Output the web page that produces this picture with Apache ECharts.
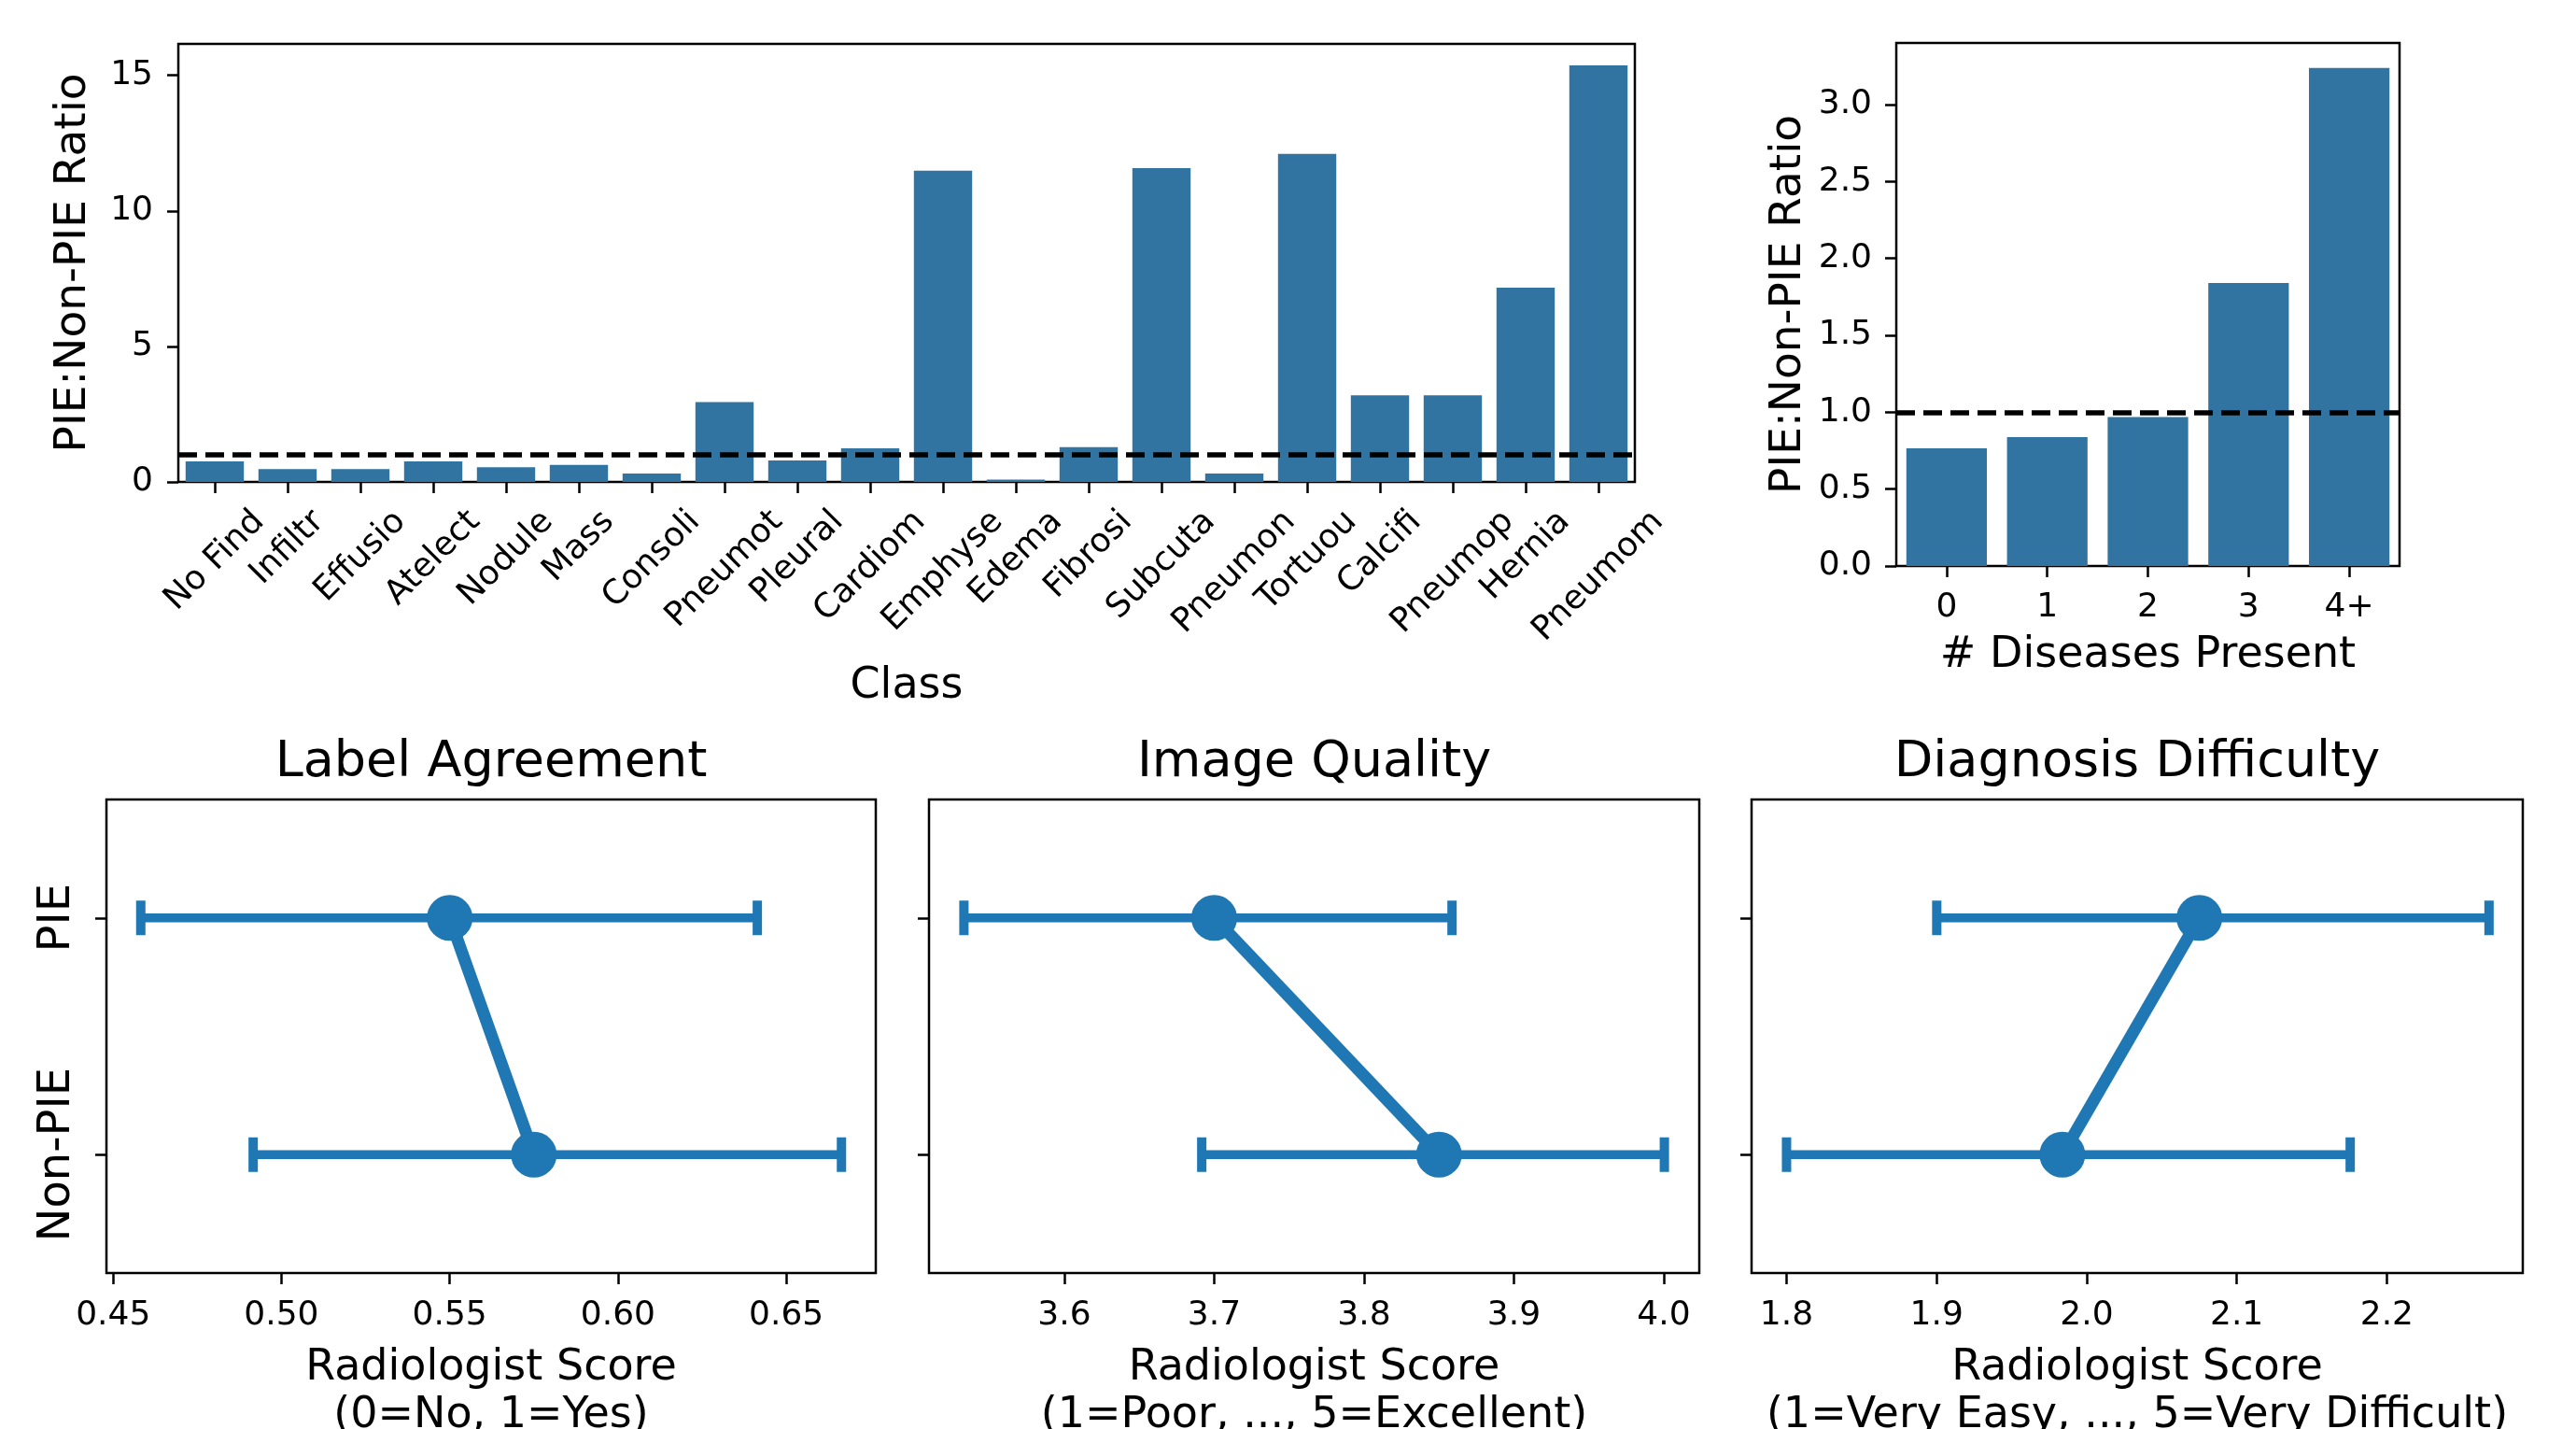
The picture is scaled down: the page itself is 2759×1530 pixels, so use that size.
<!DOCTYPE html>
<html><head><meta charset="utf-8">
<script src="https://cdn.jsdelivr.net/npm/echarts@6/dist/echarts.min.js"></script>
<style>html,body{margin:0;padding:0;background:#fff}#c{width:2759px;height:1530px}</style>
</head><body><div id="c"></div>
<script>
// ---------- data ----------
const classNames = ['No Find','Infiltr','Effusio','Atelect','Nodule','Mass','Consoli','Pneumot','Pleural','Cardiom','Emphyse','Edema','Fibrosi','Subcuta','Pneumon','Tortuou','Calcifi','Pneumop','Hernia','Pneumom'];
const classRatio = [0.76,0.475,0.475,0.76,0.54,0.63,0.31,2.95,0.79,1.24,11.48,0.09,1.28,11.58,0.31,12.1,3.2,3.2,7.17,15.37];
const classTicks = [0,5,10,15];

const diseaseCounts = ['0','1','2','3','4+'];
const diseaseRatio = [0.765,0.838,0.968,1.84,3.237];
const diseaseTicks = [0,0.5,1,1.5,2,2.5,3];

const groups = ['PIE','Non-PIE'];
const labelMean = [0.550,0.575];
const labelLow  = [0.4582,0.4916];
const labelHigh = [0.6414,0.6664];
const labelTicks = [0.45,0.50,0.55,0.60,0.65];

const qualityMean = [3.700,3.850];
const qualityLow  = [3.533,3.6917];
const qualityHigh = [3.8587,4.0004];
const qualityTicks = [3.6,3.7,3.8,3.9,4.0];

const diffMean = [2.0751,1.9838];
const diffLow  = [1.9001,1.800];
const diffHigh = [2.2681,2.1756];
const diffTicks = [1.8,1.9,2.0,2.1,2.2];

// ---------- styles ----------
const FONT = 'DejaVu Sans';
const TICK_FS = 36, NAME_FS = 46, TITLE_FS = 54;
const BAR_C = '#3274a1', PT_C = '#1f77b4';
const LW = 2.5;

// rotated label centring (matplotlib style: rotated bbox centred on tick)
const mctx = document.createElement('canvas').getContext('2d');
mctx.font = TICK_FS + 'px "' + FONT + '"';
const rich = {};
classNames.forEach((s, i) => {
  const w = mctx.measureText(s).width;
  rich['c' + i] = {fontSize: TICK_FS, fontFamily: FONT, color: '#000', padding: [w / 2, w / 2, 0, 0]};
});

const tickStyle = {show: true, length: 12, lineStyle: {color: '#000', width: LW}};
const gridBase = {show: true, borderColor: '#000', borderWidth: LW, backgroundColor: 'transparent', containLabel: false, outerBoundsMode: 'none'};
const nameStyle = {fontSize: NAME_FS, fontFamily: FONT, color: '#000', lineHeight: 51};
const labStyle = {fontSize: TICK_FS, fontFamily: FONT, color: '#000'};

const grids = [
  Object.assign({left: 191, top: 47, width: 1560, height: 469}, gridBase),
  Object.assign({left: 2031, top: 46, width: 539, height: 560}, gridBase),
  Object.assign({left: 114, top: 856, width: 824, height: 507}, gridBase),
  Object.assign({left: 995, top: 856, width: 825, height: 507}, gridBase),
  Object.assign({left: 1876, top: 856, width: 826, height: 507}, gridBase)
];

function valueXAxis(gi, min, max, ticks, dec) {
  return {
    type: 'value', gridIndex: gi, min: min, max: max,
    axisLine: {show: false}, splitLine: {show: false},
    axisTick: Object.assign({customValues: ticks}, tickStyle),
    axisLabel: Object.assign({customValues: ticks, margin: 28, formatter: v => v.toFixed(dec)}, labStyle),
    name: 'Radiologist Score', nameLocation: 'middle', nameGap: 77, nameTextStyle: nameStyle, nameMoveOverlap: false
  };
}

const xAxes = [
  {
    type: 'category', gridIndex: 0, data: classNames,
    axisLine: {show: false},
    axisTick: Object.assign({alignWithLabel: true, interval: 0}, tickStyle),
    axisLabel: {interval: 0, rotate: 45, align: 'center', verticalAlign: 'middle', margin: 37,
      formatter: (v, i) => '{c' + i + '|' + v + '}', rich: rich, fontSize: TICK_FS, fontFamily: FONT, color: '#000'},
    name: 'Class', nameLocation: 'middle', nameGap: 194, nameTextStyle: nameStyle, nameMoveOverlap: false
  },
  {
    type: 'category', gridIndex: 1, data: diseaseCounts,
    axisLine: {show: false},
    axisTick: Object.assign({alignWithLabel: true, interval: 0}, tickStyle),
    axisLabel: Object.assign({interval: 0, margin: 27}, labStyle),
    name: '# Diseases Present', nameLocation: 'middle', nameGap: 71, nameTextStyle: nameStyle, nameMoveOverlap: false
  },
  valueXAxis(2, 0.448, 0.6766, labelTicks, 2),
  valueXAxis(3, 3.5097, 4.0237, qualityTicks, 1),
  valueXAxis(4, 1.7767, 2.2906, diffTicks, 1)
];
xAxes[2].name = 'Radiologist Score\n(0=No, 1=Yes)';
xAxes[3].name = 'Radiologist Score\n(1=Poor, ..., 5=Excellent)';
xAxes[4].name = 'Radiologist Score\n(1=Very Easy, ..., 5=Very Difficult)';

function catYAxis(gi, showLabel) {
  return {
    type: 'category', gridIndex: gi, data: groups, inverse: true,
    axisLine: {show: false},
    axisTick: Object.assign({alignWithLabel: true, interval: 0}, tickStyle),
    axisLabel: Object.assign({show: showLabel, rotate: 90, margin: 28, interval: 0}, labStyle, {fontSize: 48})
  };
}

const yAxes = [
  {
    type: 'value', gridIndex: 0, min: 0, max: 16.16,
    axisLine: {show: false}, splitLine: {show: false},
    axisTick: Object.assign({customValues: classTicks}, tickStyle),
    axisLabel: Object.assign({customValues: classTicks, margin: 27, formatter: v => String(v)}, labStyle),
    name: 'PIE:Non-PIE Ratio', nameLocation: 'middle', nameRotate: 90, nameGap: 87,
    nameTextStyle: Object.assign({}, nameStyle, {fontSize: 47}), nameMoveOverlap: false
  },
  {
    type: 'value', gridIndex: 1, min: 0, max: 3.4,
    axisLine: {show: false}, splitLine: {show: false},
    axisTick: Object.assign({customValues: diseaseTicks}, tickStyle),
    axisLabel: Object.assign({customValues: diseaseTicks, margin: 26, formatter: v => v.toFixed(1)}, labStyle),
    name: 'PIE:Non-PIE Ratio', nameLocation: 'middle', nameRotate: 90, nameGap: 90,
    nameTextStyle: Object.assign({}, nameStyle, {fontSize: 47}), nameMoveOverlap: false
  },
  catYAxis(2, true), catYAxis(3, false), catYAxis(4, false)
];

const refLine = {
  symbol: 'none', silent: true, label: {show: false},
  lineStyle: {type: [20, 9], color: '#000', width: 5.5},
  data: [{yAxis: 1}]
};

function errSeries(ai, lo, hi) {
  return {
    type: 'custom', xAxisIndex: ai, yAxisIndex: ai, z: 2,
    data: lo.map((l, i) => [l, hi[i], i]),
    encode: {x: [0, 1], y: 2},
    renderItem: function (params, api) {
      const idx = api.value(2);
      const a = api.coord([api.value(0), idx]);
      const b = api.coord([api.value(1), idx]);
      const cap = 37, st = {stroke: PT_C, lineWidth: 9.5};
      const capSt = {stroke: PT_C, lineWidth: 10};
      return {type: 'group', children: [
        {type: 'line', shape: {x1: a[0], y1: a[1], x2: b[0], y2: b[1]}, style: st},
        {type: 'line', shape: {x1: a[0], y1: a[1] - cap / 2, x2: a[0], y2: a[1] + cap / 2}, style: capSt},
        {type: 'line', shape: {x1: b[0], y1: b[1] - cap / 2, x2: b[0], y2: b[1] + cap / 2}, style: capSt}
      ]};
    }
  };
}
function ptSeries(ai, mean) {
  return {
    type: 'line', xAxisIndex: ai, yAxisIndex: ai, z: 3,
    data: mean.map((m, i) => [m, i]),
    symbol: 'circle', symbolSize: 49, showSymbol: true,
    lineStyle: {color: PT_C, width: 13}, itemStyle: {color: PT_C, borderWidth: 0},
    animation: false, silent: true
  };
}

const titleStyle = {fontSize: TITLE_FS, fontFamily: FONT, color: '#000', fontWeight: 'normal'};
const option = {
  animation: false,
  backgroundColor: '#fff',
  title: [
    {text: 'Label Agreement', left: 526, top: 790, textAlign: 'center', padding: 0, textStyle: titleStyle},
    {text: 'Image Quality', left: 1407.5, top: 790, textAlign: 'center', padding: 0, textStyle: titleStyle},
    {text: 'Diagnosis Difficulty', left: 2289, top: 790, textAlign: 'center', padding: 0, textStyle: titleStyle}
  ],
  grid: grids,
  xAxis: xAxes,
  yAxis: yAxes,
  series: [
    {type: 'bar', xAxisIndex: 0, yAxisIndex: 0, data: classRatio, barCategoryGap: '20%',
      itemStyle: {color: BAR_C}, markLine: refLine, silent: true},
    {type: 'bar', xAxisIndex: 1, yAxisIndex: 1, data: diseaseRatio, barCategoryGap: '20%',
      itemStyle: {color: BAR_C}, markLine: refLine, silent: true},
    errSeries(2, labelLow, labelHigh), ptSeries(2, labelMean),
    errSeries(3, qualityLow, qualityHigh), ptSeries(3, qualityMean),
    errSeries(4, diffLow, diffHigh), ptSeries(4, diffMean)
  ]
};
const chart = echarts.init(document.getElementById('c'), null, {renderer: 'canvas'});
chart.setOption(option);
</script>
</body></html>
